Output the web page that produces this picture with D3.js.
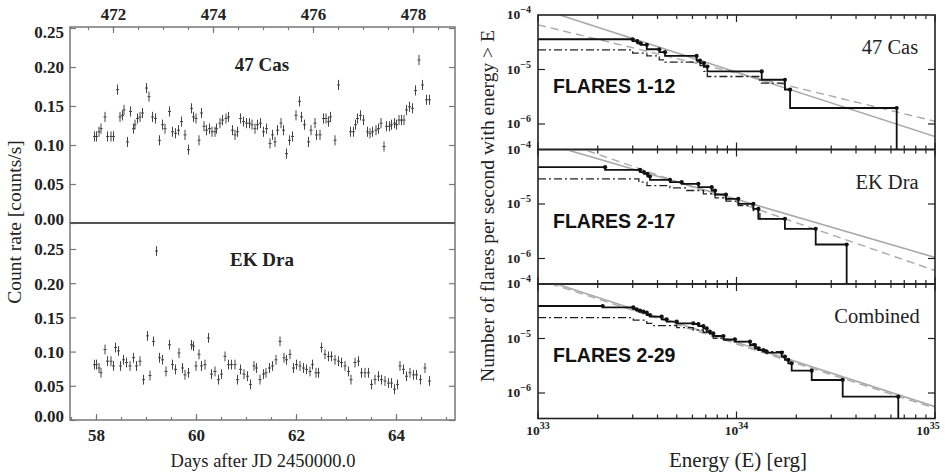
<!DOCTYPE html>
<html>
<head>
<meta charset="utf-8">
<script src="https://cdn.jsdelivr.net/npm/d3@7"></script>
<style>
  body { margin: 0; background: #fff; }
  svg { display: block; }
</style>
</head>
<body>
<svg id="chart" width="945" height="472"></svg>
<script>
// ---- light curves (days after JD 2450000.0, counts/s) ----
const casDays = [57.97, 58.01, 58.06, 58.10, 58.18, 58.23, 58.30, 58.35, 58.43, 58.48, 58.53, 58.56, 58.63, 58.69, 58.75, 58.78, 58.83, 58.88, 58.93, 59.01,
  59.06, 59.13, 59.19, 59.27, 59.33, 59.38, 59.47, 59.53, 59.59, 59.65, 59.71, 59.78, 59.85, 59.91, 59.95, 60.00, 60.06, 60.11, 60.16, 60.21,
  60.27, 60.32, 60.38, 60.41, 60.48, 60.53, 60.60, 60.65, 60.73, 60.78, 60.83, 60.89, 60.95, 61.01, 61.07, 61.12, 61.18, 61.23, 61.29, 61.35,
  61.41, 61.48, 61.53, 61.58, 61.63, 61.70, 61.75, 61.81, 61.87, 61.93, 62.00, 62.07, 62.11, 62.17, 62.25, 62.30, 62.38, 62.41, 62.48, 62.55,
  62.60, 62.65, 62.69, 62.78, 62.85, 63.09, 63.15, 63.19, 63.23, 63.29, 63.35, 63.43, 63.48, 63.53, 63.60, 63.65, 63.70, 63.76, 63.81, 63.87,
  63.91, 63.97, 64.01, 64.06, 64.11, 64.16, 64.21, 64.27, 64.33, 64.39, 64.46, 64.53, 64.61, 64.67];
const casRate = [0.111, 0.111, 0.117, 0.121, 0.136, 0.111, 0.111, 0.111, 0.171, 0.136, 0.138, 0.145, 0.104, 0.143, 0.121, 0.126, 0.134, 0.136, 0.141, 0.173,
  0.162, 0.136, 0.134, 0.106, 0.126, 0.121, 0.143, 0.117, 0.115, 0.119, 0.130, 0.113, 0.094, 0.147, 0.136, 0.134, 0.106, 0.141, 0.124, 0.119,
  0.121, 0.117, 0.117, 0.121, 0.128, 0.132, 0.134, 0.136, 0.119, 0.113, 0.117, 0.134, 0.130, 0.128, 0.128, 0.126, 0.121, 0.126, 0.128, 0.117,
  0.121, 0.102, 0.113, 0.104, 0.119, 0.128, 0.119, 0.089, 0.106, 0.111, 0.138, 0.156, 0.136, 0.126, 0.104, 0.119, 0.128, 0.113, 0.113, 0.134,
  0.134, 0.130, 0.136, 0.106, 0.177, 0.117, 0.117, 0.126, 0.134, 0.138, 0.132, 0.117, 0.115, 0.117, 0.119, 0.121, 0.128, 0.098, 0.124, 0.124,
  0.126, 0.128, 0.126, 0.132, 0.132, 0.132, 0.145, 0.149, 0.147, 0.170, 0.209, 0.177, 0.158, 0.158];

const ekDays = [57.97, 58.01, 58.06, 58.10, 58.18, 58.23, 58.30, 58.35, 58.39, 58.45, 58.49, 58.55, 58.61, 58.68, 58.75, 58.81, 58.88, 58.95, 59.03, 59.08,
  59.15, 59.21, 59.27, 59.33, 59.40, 59.47, 59.53, 59.59, 59.66, 59.73, 59.78, 59.85, 59.91, 59.95, 60.00, 60.06, 60.11, 60.18, 60.25, 60.31,
  60.38, 60.45, 60.51, 60.58, 60.65, 60.71, 60.78, 60.83, 60.89, 60.96, 61.03, 61.09, 61.16, 61.21, 61.28, 61.35, 61.40, 61.47, 61.53, 61.60,
  61.68, 61.76, 61.81, 61.88, 61.95, 62.01, 62.08, 62.15, 62.21, 62.28, 62.33, 62.40, 62.45, 62.51, 62.58, 62.65, 62.71, 62.78, 62.85, 62.91,
  62.98, 63.05, 63.10, 63.18, 63.25, 63.31, 63.38, 63.45, 63.51, 63.58, 63.65, 63.71, 63.78, 63.85, 63.91, 63.97, 64.03, 64.08, 64.15, 64.21,
  64.28, 64.35, 64.41, 64.49, 64.58, 64.67];
const ekRate = [0.081, 0.081, 0.076, 0.069, 0.103, 0.086, 0.086, 0.079, 0.106, 0.101, 0.079, 0.088, 0.084, 0.079, 0.091, 0.079, 0.086, 0.059, 0.123, 0.065,
  0.115, 0.247, 0.091, 0.088, 0.071, 0.110, 0.081, 0.074, 0.098, 0.076, 0.066, 0.069, 0.110, 0.108, 0.079, 0.096, 0.079, 0.081, 0.120, 0.067,
  0.071, 0.059, 0.067, 0.093, 0.081, 0.081, 0.081, 0.059, 0.074, 0.067, 0.064, 0.052, 0.079, 0.076, 0.059, 0.067, 0.069, 0.076, 0.079, 0.088,
  0.115, 0.091, 0.088, 0.096, 0.076, 0.081, 0.079, 0.076, 0.074, 0.071, 0.081, 0.069, 0.069, 0.106, 0.096, 0.093, 0.093, 0.088, 0.086, 0.084,
  0.079, 0.071, 0.059, 0.084, 0.086, 0.069, 0.069, 0.069, 0.052, 0.059, 0.064, 0.059, 0.057, 0.054, 0.054, 0.045, 0.052, 0.079, 0.074, 0.064,
  0.069, 0.066, 0.066, 0.059, 0.076, 0.057];

// ---- cumulative flare rates, log10(E [erg]) and log10(N > E [1/s]) ----
const casFlareLogE = [33.477, 33.500, 33.517, 33.548, 33.611, 33.640, 33.799, 33.816, 33.836, 33.853, 34.127, 34.244, 34.270, 34.807];
const casFlareLogN = [-4.445, -4.481, -4.518, -4.548, -4.628, -4.683, -4.750, -4.835, -4.883, -4.945, -5.036, -5.188, -5.371, -5.706];
const casDashLogE = [33.477, 33.548, 33.611, 33.640, 33.816, 33.836, 33.853, 34.118, 34.244];
const casDashLogN = [-4.640, -4.700, -4.750, -4.823, -4.865, -4.927, -5.036, -5.128, -5.249];

const ekFlareLogE = [33.338, 33.514, 33.534, 33.551, 33.564, 33.665, 33.724, 33.808, 33.875, 33.892, 33.947, 34.009, 34.085, 34.110, 34.244, 34.399, 34.555];
const ekFlareLogN = [-4.324, -4.373, -4.416, -4.446, -4.495, -4.557, -4.599, -4.630, -4.691, -4.752, -4.826, -4.905, -4.997, -5.089, -5.272, -5.456, -5.743];
const ekDashLogE = [33.508, 33.549, 33.665, 33.749, 33.833, 33.892, 33.947, 34.009, 34.085, 34.118, 34.244];
const ekDashLogN = [-4.538, -4.599, -4.661, -4.703, -4.752, -4.813, -4.887, -4.948, -5.028, -5.119, -5.272];

const combFlareLogE = [33.326, 33.480, 33.497, 33.514, 33.531, 33.548, 33.564, 33.623, 33.648, 33.699, 33.782, 33.808, 33.833, 33.850, 33.866,
  33.883, 33.934, 33.992, 34.068, 34.093, 34.110, 34.135, 34.152, 34.228, 34.244, 34.261, 34.278, 34.379, 34.535, 34.815];
const combFlareLogN = [-4.404, -4.428, -4.465, -4.489, -4.508, -4.526, -4.569, -4.599, -4.648, -4.691, -4.722, -4.734, -4.771, -4.813, -4.875,
  -4.905, -4.954, -5.015, -5.058, -5.119, -5.180, -5.211, -5.242, -5.260, -5.333, -5.394, -5.455, -5.590, -5.761, -6.067];
const combDashLogE = [33.480, 33.548, 33.573, 33.699, 33.782, 33.833, 33.866, 33.883, 33.934, 33.992, 34.068, 34.093, 34.118, 34.152, 34.244];
const combDashLogN = [-4.618, -4.661, -4.722, -4.765, -4.801, -4.844, -4.887, -4.954, -4.997, -5.028, -5.058, -5.101, -5.150, -5.211, -5.242];

// power-law fits, endpoints [log10 E, log10 N]
const casFitSolid = [[33.0, -3.87], [35.0, -6.23]];
const casFitDashed = [[33.0, -4.18], [35.0, -5.95]];
const ekFitSolid = [[33.0, -3.85], [35.0, -5.98]];
const ekFitDashed = [[33.0, -3.71], [35.0, -6.22]];
const combFitSolid = [[33.0, -3.89], [35.0, -6.25]];
const combFitDashed = [[33.0, -3.92], [35.0, -6.28]];

const curveTicks = [0, 0.05, 0.10, 0.15, 0.20, 0.25];
const topDayTicks = [472, 474, 476, 478];
const bottomDayTicks = [58, 60, 62, 64];

const svg = d3.select('#chart');
const serif = '"Liberation Serif", "DejaVu Serif", serif';
const sans = '"Liberation Sans", Arial, sans-serif';

// ================= left: light curves =================
const L = { left: 70, right: 455, top: 27, mid: 223, bottom: 420 };
const x = d3.scaleLinear().domain([57.48, 65.18]).range([L.left, L.right]);
const xTop = d3.scaleLinear().domain([471.14, 478.84]).range([L.left, L.right]);
const yCas = d3.scaleLinear().domain([0, 0.2513]).range([L.mid, L.top]);
const yEk = d3.scaleLinear().domain([0, 0.288]).range([L.bottom, L.mid]);

const frameCol = '#777';
const left = svg.append('g');

function lightCurve(days, rate, y, err) {
  const g = left.append('g').attr('stroke', '#444').attr('stroke-width', 1);
  days.forEach((d, i) => {
    g.append('line').attr('x1', x(d)).attr('x2', x(d))
      .attr('y1', y(rate[i] - err)).attr('y2', y(rate[i] + err));
    g.append('line').attr('x1', x(d - 0.03)).attr('x2', x(d + 0.03))
      .attr('y1', y(rate[i])).attr('y2', y(rate[i]));
  });
}
lightCurve(casDays, casRate, yCas, 0.0065);
lightCurve(ekDays, ekRate, yEk, 0.0072);

function yAxes(y, top, bottom) {
  const ax = left.append('g').attr('transform', `translate(${L.left},0)`)
    .call(d3.axisLeft(y).tickValues(curveTicks).tickSize(-6).tickPadding(6).tickFormat(d3.format('.2f')));
  ax.select('.domain').remove();
  ax.selectAll('text').attr('y', 0).attr('dy', '0.35em')
    .attr('transform', d => {
      const p = y(d);
      const c = Math.min(Math.max(p, top + 5), bottom - 4);
      return `translate(0,${c - p})`;
    });
  const ax2 = left.append('g').attr('transform', `translate(${L.right},0)`)
    .call(d3.axisRight(y).tickValues(curveTicks).tickSize(-6).tickFormat(''));
  ax2.select('.domain').remove();
  [ax, ax2].forEach(a => a.selectAll('line').attr('stroke', frameCol).attr('stroke-width', 1.2));
  ax.selectAll('text').attr('font-family', serif).attr('font-size', 17).attr('font-weight', 'bold').attr('fill', '#222');
}
yAxes(yCas, L.top, L.mid);
yAxes(yEk, L.mid, L.bottom);

function xAxis(scale, ticks, ypos, dir) {
  const major = dir === 'bottom' ? d3.axisBottom(scale) : d3.axisTop(scale);
  const minorTicks = d3.range(Math.ceil(scale.domain()[0] * 2) / 2, scale.domain()[1], 0.5);
  const minor = (dir === 'bottom' ? d3.axisBottom(scale) : d3.axisTop(scale))
    .tickValues(minorTicks).tickSize(-3).tickFormat('');
  const gm = left.append('g').attr('transform', `translate(0,${ypos})`).call(minor);
  const g = left.append('g').attr('transform', `translate(0,${ypos})`)
    .call(major.tickValues(ticks).tickSize(-6).tickPadding(dir === 'bottom' ? 9 : 7).tickFormat(d3.format('d')));
  [g, gm].forEach(a => { a.select('.domain').remove(); a.selectAll('line').attr('stroke', frameCol).attr('stroke-width', 1.2); });
  g.selectAll('text').attr('font-family', serif).attr('font-size', 17).attr('font-weight', 'bold').attr('fill', '#222');
}
xAxis(x, bottomDayTicks, L.bottom, 'bottom');
xAxis(xTop, topDayTicks, L.top, 'top');

// frame + separator
left.append('rect').attr('x', L.left).attr('y', L.top)
  .attr('width', L.right - L.left).attr('height', L.bottom - L.top)
  .attr('fill', 'none').attr('stroke', frameCol).attr('stroke-width', 1.5);
left.append('line').attr('x1', L.left).attr('x2', L.right).attr('y1', L.mid).attr('y2', L.mid)
  .attr('stroke', '#555').attr('stroke-width', 2.2);

left.append('text').attr('x', 262).attr('y', 71).attr('text-anchor', 'middle')
  .attr('font-family', serif).attr('font-size', 19).attr('font-weight', 'bold').attr('fill', '#222').text('47 Cas');
left.append('text').attr('x', 262).attr('y', 266).attr('text-anchor', 'middle')
  .attr('font-family', serif).attr('font-size', 19).attr('font-weight', 'bold').attr('fill', '#222').text('EK Dra');
left.append('text').attr('x', 263).attr('y', 467).attr('text-anchor', 'middle')
  .attr('font-family', serif).attr('font-size', 18.5).attr('fill', '#222').text('Days after JD 2450000.0');
left.append('text').attr('transform', 'translate(21,222) rotate(-90)').attr('text-anchor', 'middle')
  .attr('font-family', serif).attr('font-size', 19.5).attr('fill', '#222').text('Count rate [counts/s]');

// ================= right: flare frequency distributions =================
const R = { left: 538, right: 935 };
const panelTops = [15, 149.5, 284];
const panelH = 134.5;
const xE = d3.scaleLog().domain([1e33, 1e35]).range([R.left, R.right]);
const right = svg.append('g');
const defs = svg.append('defs');

const panels = [
  { name: '47 Cas', flares: 'FLARES 1-12', fE: casFlareLogE, fN: casFlareLogN, dE: casDashLogE, dN: casDashLogN, fit: casFitSolid, fitD: casFitDashed, nameX: 890 },
  { name: 'EK Dra', flares: 'FLARES 2-17', fE: ekFlareLogE, fN: ekFlareLogN, dE: ekDashLogE, dN: ekDashLogN, fit: ekFitSolid, fitD: ekFitDashed, nameX: 887 },
  { name: 'Combined', flares: 'FLARES 2-29', fE: combFlareLogE, fN: combFlareLogN, dE: combDashLogE, dN: combDashLogN, fit: combFitSolid, fitD: combFitDashed, nameX: 877 }
];

const minorE = [];
[33, 34].forEach(p => d3.range(1, 10).forEach(m => minorE.push(m * Math.pow(10, p))));

panels.forEach((p, i) => {
  const top = panelTops[i], bottom = top + panelH;
  const yN = d3.scaleLog().domain([Math.pow(10, -4 - panelH / 54.5), 1e-4]).range([bottom, top]);
  const g = right.append('g');
  defs.append('clipPath').attr('id', 'clip' + i).append('rect')
    .attr('x', R.left).attr('y', top).attr('width', R.right - R.left).attr('height', panelH);
  const plot = g.append('g').attr('clip-path', `url(#clip${i})`);
  const px = e => xE(Math.pow(10, e));
  const py = n => yN(Math.pow(10, n));

  // power-law fits
  const fitLine = d3.line().x(d => px(d[0])).y(d => py(d[1]));
  plot.append('path').attr('d', fitLine(p.fit)).attr('fill', 'none').attr('stroke', '#aaa').attr('stroke-width', 1.6);
  plot.append('path').attr('d', fitLine(p.fitD)).attr('fill', 'none').attr('stroke', '#aaa').attr('stroke-width', 1.4)
    .attr('stroke-dasharray', '8,5');

  // dash-dot step
  const step = d3.line().x(d => d[0]).y(d => d[1]).curve(d3.curveStepAfter);
  const dashPts = [[R.left, py(p.dN[0])]];
  p.dE.forEach((e, k) => {
    const lvl = k + 1 < p.dN.length ? p.dN[k + 1] : p.dN[p.dN.length - 1];
    dashPts.push([px(e), py(lvl)]);
  });
  plot.append('path').attr('d', step(dashPts)).attr('fill', 'none').attr('stroke', '#222')
    .attr('stroke-width', 1.3).attr('stroke-dasharray', '8,3,2,3');

  // solid cumulative step
  const solidPts = [[R.left, py(p.fN[0])]];
  p.fE.forEach((e, k) => {
    solidPts.push([px(e), k + 1 < p.fN.length ? py(p.fN[k + 1]) : bottom]);
  });
  plot.append('path').attr('d', step(solidPts)).attr('fill', 'none').attr('stroke', '#111').attr('stroke-width', 1.8);
  plot.selectAll('circle.f').data(p.fE).enter().append('circle')
    .attr('cx', d => px(d)).attr('cy', (d, k) => py(p.fN[k])).attr('r', 2.1).attr('fill', '#111');

  // ticks
  const tickG = g.append('g').attr('stroke', '#222').attr('stroke-width', 1.2);
  minorE.concat([1e35]).forEach(e => {
    const isMajor = Math.abs(Math.log10(e) % 1) < 1e-9;
    const len = isMajor ? 7 : 4;
    const xx = xE(e);
    tickG.append('line').attr('x1', xx).attr('x2', xx).attr('y1', bottom).attr('y2', bottom - len);
    tickG.append('line').attr('x1', xx).attr('x2', xx).attr('y1', top).attr('y2', top + len);
  });
  [1e-5, 1e-6].forEach(n => {
    tickG.append('line').attr('x1', R.left).attr('x2', R.left + 7).attr('y1', yN(n)).attr('y2', yN(n));
    tickG.append('line').attr('x1', R.right).attr('x2', R.right - 7).attr('y1', yN(n)).attr('y2', yN(n));
  });

  g.append('rect').attr('x', R.left).attr('y', top).attr('width', R.right - R.left).attr('height', panelH)
    .attr('fill', 'none').attr('stroke', '#222').attr('stroke-width', 1.6);

  // y tick labels
  [1e-4, 1e-5, 1e-6].forEach(n => {
    const t = g.append('text').attr('x', 531).attr('y', yN(n) + 4).attr('text-anchor', 'end')
      .attr('font-family', serif).attr('font-size', 13.5).attr('font-weight', 'bold').attr('fill', '#222');
    t.append('tspan').text('10');
    t.append('tspan').attr('dy', -6).attr('font-size', 10).text('\u2212' + Math.round(-Math.log10(n)));
  });

  g.append('text').attr('x', p.nameX).attr('y', top + 39).attr('text-anchor', 'middle')
    .attr('font-family', serif).attr('font-size', 20.5).attr('fill', '#222').text(p.name);
  g.append('text').attr('x', 553).attr('y', top + 78)
    .attr('font-family', sans).attr('font-size', 19.5).attr('font-weight', 'bold').attr('fill', '#111').text(p.flares);
});

// x tick labels (log); the last one sits at the page edge as in the original
[1e33, 1e34, 1e35].forEach(e => {
  const t = right.append('text').attr('x', Math.min(xE(e), 928)).attr('y', 435).attr('text-anchor', 'middle')
    .attr('font-family', serif).attr('font-size', 13.5).attr('font-weight', 'bold').attr('fill', '#222');
  t.append('tspan').text('10');
  t.append('tspan').attr('dy', -6).attr('font-size', 10).text(Math.round(Math.log10(e)));
});
right.append('text').attr('x', 738).attr('y', 467).attr('text-anchor', 'middle')
  .attr('font-family', serif).attr('font-size', 21).attr('fill', '#222').text('Energy (E) [erg]');
right.append('text').attr('transform', 'translate(494,206) rotate(-90)').attr('text-anchor', 'middle')
  .attr('font-family', serif).attr('font-size', 19.5).attr('fill', '#222').text('Number of flares per second with energy > E');
</script>
</body>
</html>
